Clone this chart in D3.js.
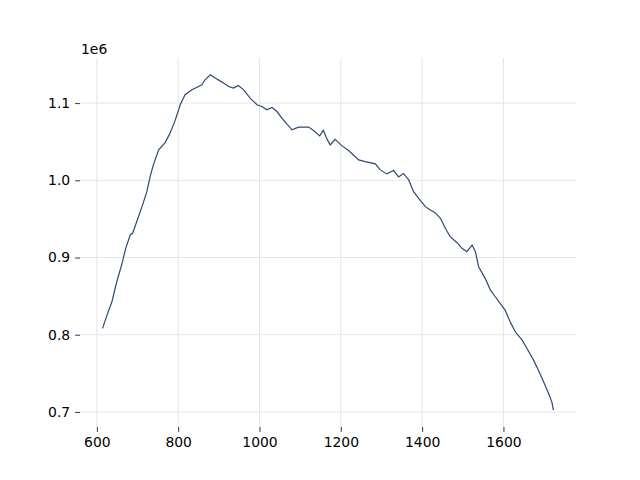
<!DOCTYPE html>
<meta charset="utf-8">
<style>
body { margin: 0; background: #fff; }
.tick text { font-family: "DejaVu Sans", sans-serif; font-size: 13.9px; fill: #000; }
.tick line { stroke: #000; stroke-width: 0.8px; }
.grid line { stroke: #e6e6e6; stroke-width: 1px; }
.line { fill: none; stroke: #2c4a73; stroke-width: 1.2px; }
</style>
<body>
<script src="https://d3js.org/d3.v7.min.js"></script>
<script>

// values
var xValues = [614, 625, 637, 649, 662, 671, 682, 688, 698, 711, 723, 731, 739, 752,
  768, 780, 793, 805, 817, 834, 850, 858, 866, 879, 891, 908, 924, 936, 948, 961,
  977, 994, 1006, 1018, 1031, 1043, 1055, 1063, 1080, 1096, 1121, 1133, 1148, 1157,
  1166, 1174, 1186, 1203, 1219, 1244, 1260, 1285, 1297, 1313, 1330, 1342, 1354, 1367,
  1379, 1391, 1408, 1420, 1432, 1445, 1457, 1469, 1486, 1498, 1510, 1523, 1531, 1539,
  1555, 1568, 1580, 1592, 1604, 1617, 1629, 1646, 1658, 1674, 1686, 1699, 1711, 1719, 1723];
var yValues = [808200, 825400, 842700, 868600, 892500, 911900, 929200, 931400, 946400, 965900,
  985300, 1004800, 1020000, 1039400,
  1048900, 1061100, 1078300, 1097800, 1110800, 1117200, 1121500, 1123700, 1130200, 1136700,
  1132400, 1127200, 1121500, 1119400, 1122800, 1117200,
  1106500, 1097800, 1095600, 1091300, 1094300, 1089100, 1080500, 1075700, 1065400, 1068900,
  1068900, 1064500, 1057600, 1064700,
  1053300, 1045900, 1053000, 1044600, 1038500, 1026500, 1024300, 1021300, 1013500, 1008300,
  1012600, 1004400, 1008900, 1000500,
  985300, 976800, 965900, 961600, 958100, 950800, 937900, 927000, 919200, 911900,
  907500, 916200, 907500, 888100,
  873000, 857800, 849200, 840600, 831900, 816300, 803800, 793000, 782200, 767100,
  754100, 738900, 723900, 713000, 702200];
var xTicks = [600, 800, 1000, 1200, 1400, 1600];
var yTicks = [700000, 800000, 900000, 1000000, 1100000];

var data = xValues.map(function(d, i) { return {x: d, y: yValues[i]}; });

var margin = {top: 58, right: 64, bottom: 53, left: 80},
    width = 640 - margin.left - margin.right,
    height = 480 - margin.top - margin.bottom;

var svg = d3.select("body").append("svg")
    .attr("width", 640)
    .attr("height", 480)
  .append("g")
    .attr("transform", "translate(" + margin.left + "," + margin.top + ")");

// 5% padding like matplotlib autoscale
var xExt = d3.extent(xValues), yExt = d3.extent(yValues);
var xPad = (xExt[1] - xExt[0]) * 0.05, yPad = (yExt[1] - yExt[0]) * 0.05;
var x = d3.scaleLinear().domain([xExt[0] - xPad, xExt[1] + xPad]).range([0, width]);
var y = d3.scaleLinear().domain([yExt[0] - yPad, yExt[1] + yPad]).range([height, 0]);

// grid
svg.append("g").attr("class", "grid")
  .selectAll("line").data(xTicks).enter().append("line")
    .attr("x1", function(d) { return x(d); }).attr("x2", function(d) { return x(d); })
    .attr("y1", 0).attr("y2", height);
svg.append("g").attr("class", "grid")
  .selectAll("line").data(yTicks).enter().append("line")
    .attr("y1", function(d) { return y(d); }).attr("y2", function(d) { return y(d); })
    .attr("x1", 0).attr("x2", width);

// axes, no spines
var xAxis = svg.append("g")
    .attr("transform", "translate(0," + height + ")")
    .call(d3.axisBottom(x).tickValues(xTicks).tickSize(4.9).tickPadding(4.9).tickFormat(d3.format("d")));
xAxis.select(".domain").remove();

var yAxis = svg.append("g")
    .call(d3.axisLeft(y).tickValues(yTicks).tickSize(4.9).tickPadding(4.9)
      .tickFormat(function(d) { return (d / 1e6).toFixed(1); }));
yAxis.select(".domain").remove();

// offset text
svg.append("text")
    .attr("x", 1)
    .attr("y", -4.5)
    .style("font-family", "DejaVu Sans, sans-serif")
    .style("font-size", "13.9px")
    .text("1e6");

svg.append("path")
    .datum(data)
    .attr("class", "line")
    .attr("d", d3.line()
      .x(function(d) { return x(d.x); })
      .y(function(d) { return y(d.y); }));

</script>
</body>
